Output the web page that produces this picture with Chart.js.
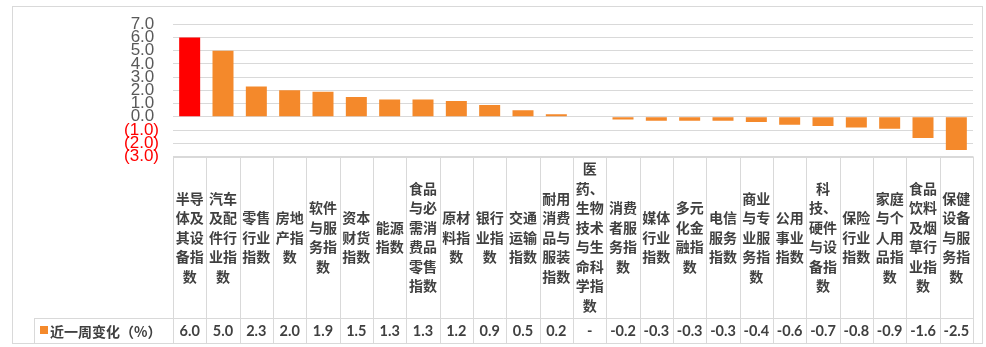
<!DOCTYPE html>
<html>
<head>
<meta charset="utf-8">
<script src="https://cdn.jsdelivr.net/npm/chart.js@4"></script>
<style>
  body { margin: 0; background: #fff; }
</style>
</head>
<body>
<canvas id="myChart" width="986" height="347"></canvas>
<script>
// categories, weekly change (%), axis range
const categories = ['半导体及其设备指数', '汽车及配件行业指数', '零售行业指数', '房地产指数', '软件与服务指数',
    '资本财货指数', '能源指数', '食品与必需消费品零售指数', '原材料指数', '银行业指数', '交通运输指数',
    '耐用消费品与服装指数', '医药、生物技术与生命科学指数', '消费者服务指数', '媒体行业指数', '多元化金融指数',
    '电信服务指数', '商业与专业服务指数', '公用事业指数', '科技、硬件与设备指数', '保险行业指数',
    '家庭与个人用品指数', '食品饮料及烟草行业指数', '保健设备与服务指数'];
const weeklyChange = [6.0, 5.0, 2.3, 2.0, 1.9, 1.5, 1.3, 1.3, 1.2, 0.9, 0.5, 0.2, null,
    -0.2, -0.3, -0.3, -0.3, -0.4, -0.6, -0.7, -0.8, -0.9, -1.6, -2.5];
const seriesName = '近一周变化（%）';
const yMin = -3;
const yMax = 7;
const yStep = 1;

const orange = '#F4892B';
const red = '#FF0000';
const lineGray = '#D9D9D9';
const textGray = '#404040';

let barColors = [];
for (let i = 0; i < weeklyChange.length; i++) {
    barColors[i] = i === 0 ? red : orange;
}

// two characters per line, a 、 may not start a line
function wrapLabel(s) {
    let lines = [];
    let i = 0;
    while (i < s.length) {
        let n = 2;
        if (s[i + 2] === '、') n = 1;
        lines.push(s.substr(i, n));
        i += n;
    }
    return lines;
}

function fmtTick(v) {
    return v < 0 ? '(' + (-v).toFixed(1) + ')' : v.toFixed(1) + ' ';
}

// data table under the plot area
const dataTable = {
    id: 'dataTable',
    afterDraw(chart) {
        const c = chart.ctx;
        const x = chart.scales.x;
        const area = chart.chartArea;
        const top = area.bottom;
        const headBottom = 318;
        const bottom = 343;
        const legendLeft = 34;
        const colW = (area.right - area.left) / categories.length;

        c.save();
        c.strokeStyle = lineGray;
        c.lineWidth = 1;

        // outer frame
        c.strokeRect(12.5, 6.5, 970, 337);

        c.beginPath();
        c.moveTo(area.left, Math.round(top) + 0.5);
        c.lineTo(area.right, Math.round(top) + 0.5);
        c.moveTo(legendLeft, headBottom + 0.5);
        c.lineTo(area.right, headBottom + 0.5);
        c.moveTo(legendLeft, bottom + 0.5);
        c.lineTo(area.right, bottom + 0.5);
        for (let i = 0; i <= categories.length; i++) {
            const lx = Math.round(area.left + i * colW) + 0.5;
            c.moveTo(lx, top);
            c.lineTo(lx, bottom);
        }
        c.moveTo(legendLeft + 0.5, headBottom);
        c.lineTo(legendLeft + 0.5, bottom);
        c.stroke();

        // category names
        c.fillStyle = textGray;
        c.textAlign = 'center';
        c.textBaseline = 'middle';
        c.font = 'bold 14px "Noto Sans CJK SC"';
        const lh = 19.5;
        const mid = (top + headBottom) / 2;
        categories.forEach((name, i) => {
            const lines = wrapLabel(name);
            const cx = x.getPixelForValue(i);
            let y = mid - (lines.length * lh) / 2 + lh / 2;
            lines.forEach(line => {
                c.fillText(line, cx, y);
                y += lh;
            });
        });

        // values
        c.font = 'bold 14.5px Lato';
        const vy = (headBottom + bottom) / 2 + 1;
        weeklyChange.forEach((v, i) => {
            c.fillText(v === null ? '-' : v.toFixed(1), x.getPixelForValue(i), vy);
        });

        // legend key
        c.fillStyle = orange;
        c.fillRect(40, 326, 8, 8);
        c.fillStyle = textGray;
        c.textAlign = 'left';
        c.font = 'bold 14px "Noto Sans CJK SC"';
        c.fillText(seriesName, 50, vy);
        c.restore();
    }
};

const ctx = document.getElementById('myChart');
const weeklyChart = new Chart(ctx, {
    type: 'bar',
    data: {
        labels: categories,
        datasets: [{
            label: seriesName,
            data: weeklyChange,
            backgroundColor: barColors,
            borderWidth: 0,
            categoryPercentage: 1,
            barPercentage: 0.63
        }]
    },
    options: {
        responsive: false,
        animation: false,
        layout: {
            padding: { left: 0, right: 13, top: 15, bottom: 190.5 }
        },
        plugins: {
            legend: { display: false },
            tooltip: { enabled: false }
        },
        scales: {
            x: {
                display: false
            },
            y: {
                min: yMin,
                max: yMax,
                border: { display: false },
                grid: {
                    color: lineGray,
                    drawTicks: false
                },
                ticks: {
                    stepSize: yStep,
                    autoSkip: false,
                    padding: 14,
                    font: { family: '"Liberation Sans"', size: 17 },
                    color: c => c.tick.value < 0 ? red : '#595959',
                    callback: v => fmtTick(v)
                },
                afterFit(scale) {
                    scale.width = 173;
                }
            }
        }
    },
    plugins: [dataTable]
});
</script>
</body>
</html>
